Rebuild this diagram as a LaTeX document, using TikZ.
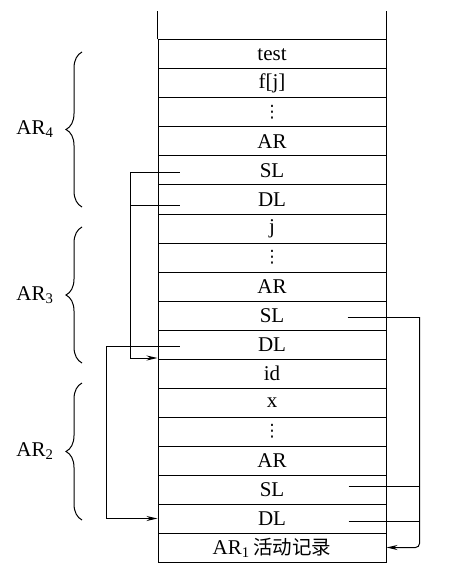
\documentclass[tikz,border=0pt]{standalone}
\usepackage{fontspec}
\setmainfont{Liberation Serif}
\newfontfamily\cjk{Noto Sans CJK SC}
\newfontfamily\dvs{DejaVu Sans}
\usetikzlibrary{decorations.pathreplacing,arrows.meta}
\newcommand{\vdotsmark}{{\dvs\fontsize{17}{17}\selectfont ⋮}}
\begin{document}
\begin{tikzpicture}[x=1pt,y=-1pt,
  txt/.style={font=\fontsize{21}{23}\selectfont},
  cell/.style={txt, draw, line width=1pt, minimum width=228pt, minimum height=29pt, inner sep=0pt, anchor=center},
  link/.style={line width=1pt},
  arr/.style={link, -{Stealth[length=11pt,width=5pt]}},
  brc/.style={decorate, decoration={brace, amplitude=16pt}, line width=1pt}]
\useasboundingbox (0,0) rectangle (454,577);
% stack cells
\node[cell] (r0)  at (272, 54.5) {test};
\node[cell] (r1)  at (272, 83.5) {f[j]};
\node[cell] (r2)  at (272,112.5) {\vdotsmark};
\node[cell] (r3)  at (272,141.5) {AR};
\node[cell] (r4)  at (272,170.5) {SL};
\node[cell] (r5)  at (272,199.5) {DL};
\node[cell] (r6)  at (272,228.5) {j};
\node[cell] (r7)  at (272,257.5) {\vdotsmark};
\node[cell] (r8)  at (272,286.5) {AR};
\node[cell] (r9)  at (272,315.5) {SL};
\node[cell] (r10) at (272,344.5) {DL};
\node[cell] (r11) at (272,373.5) {id};
\node[cell] (r12) at (272,402.5) {x};
\node[cell] (r13) at (272,431.5) {\vdotsmark};
\node[cell] (r14) at (272,460.5) {AR};
\node[cell] (r15) at (272,489.5) {SL};
\node[cell] (r16) at (272,518.5) {DL};
\node[cell] (r17) at (272,547.5) {AR\textsubscript{1}\,{\cjk\fontsize{19.5}{22}\selectfont 活动记录}};
% open top of the stack
\draw[link] (r0.north west) -- ++(0pt,28pt);
\draw[link] (r0.north east) -- ++(0pt,28pt);
% left links
\draw[arr] ([xshift=22pt,yshift=-2.5pt]r4.west) -- ++(-49pt,0pt) |- ([yshift=1.5pt]r10.south west);
\draw[link] ([xshift=22pt,yshift=-6pt]r5.west) -- ++(-49pt,0pt);
\draw[arr] ([xshift=22pt,yshift=-2pt]r10.west) -- ++(-73pt,0pt) |- (r16.west);
% right links
\draw[link] ([xshift=-39pt,yshift=-1.5pt]r9.east) -- ++(72pt,0pt) coordinate (rc);
\draw[arr, rounded corners=4pt] (rc) |- (r17.east);
\draw[link] ([xshift=-38pt,yshift=3.5pt]r15.east) -- ++(71pt,0pt);
\draw[link] ([xshift=-38pt,yshift=-2.5pt]r16.east) -- ++(71pt,0pt);
% braces and labels
\draw[brc] (82,207) -- (82,52);
\draw[brc] (82,363) -- (82,227);
\draw[brc] (82,520) -- (82,383);
\node[txt] (lab4) at (35,129.5) {AR\textsubscript{4}};
\node[txt] (lab3) at (35,295) {AR\textsubscript{3}};
\node[txt] (lab2) at (35,451.5) {AR\textsubscript{2}};
\end{tikzpicture}
\end{document}
